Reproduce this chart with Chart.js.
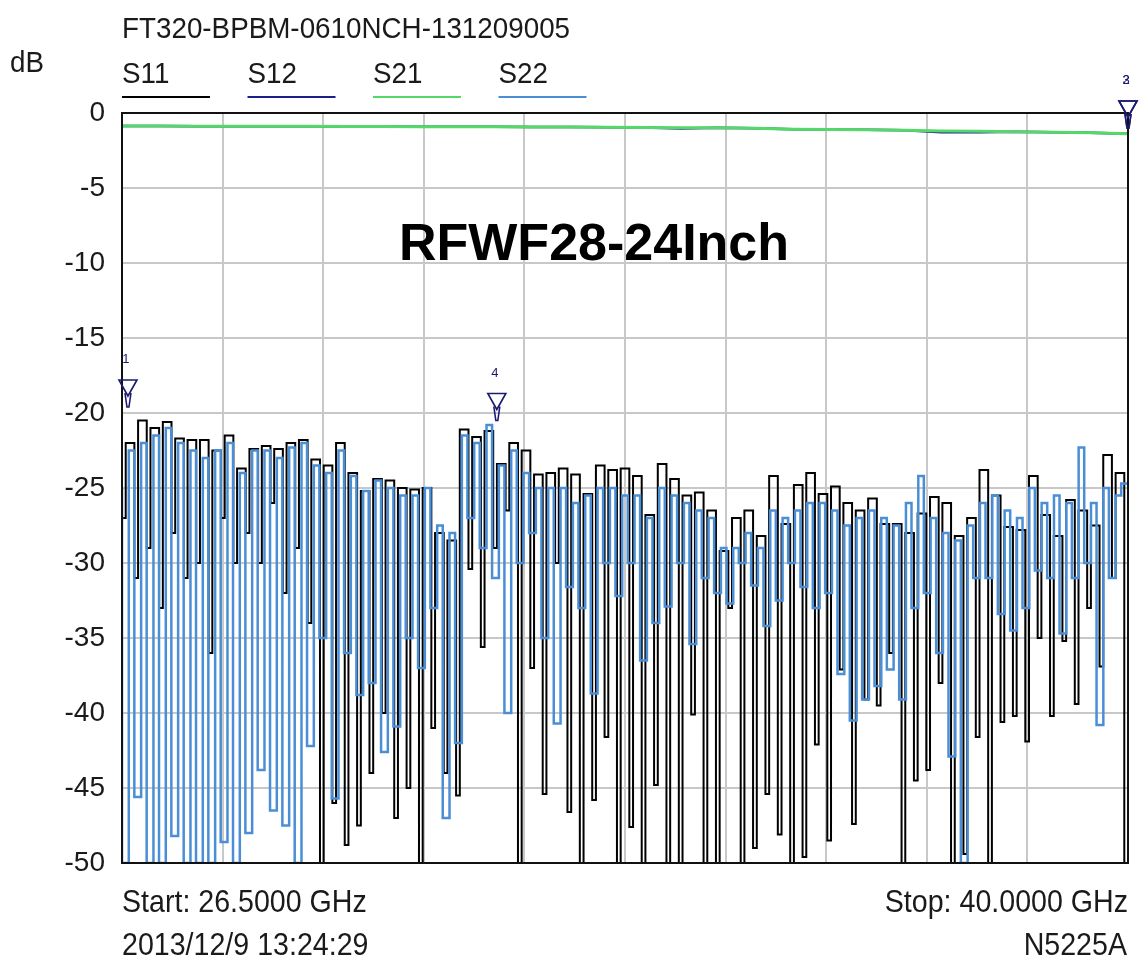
<!DOCTYPE html>
<html>
<head>
<meta charset="utf-8">
<title>RFWF28-24Inch S-parameters</title>
<script src="https://cdn.jsdelivr.net/npm/chart.js@4.4.1/dist/chart.umd.min.js"></script>
<style>
  html, body { margin: 0; padding: 0; background: #fff; }
  #wrap { position: relative; width: 1141px; height: 964px; }
</style>
</head>
<body>
<div id="wrap"><canvas id="sparam"></canvas></div>
<script>
// sweep settings
const startGHz = 26.5;
const stopGHz = 40.0;
const xDivisions = 10;
const yTicks = [0, -5, -10, -15, -20, -25, -30, -35, -40, -45, -50];

// S11 / S22 ripple: one peak and one dip per ripple
const s11Peak = [
  -20.3, -22.0, -20.5, -21.0, -20.6, -21.7, -21.8, -21.8, -22.5, -21.5,
  -23.7, -22.4, -22.2, -22.4, -22.0, -21.8, -23.1, -23.5, -22.0, -24.0,
  -25.2, -24.4, -24.5, -25.0, -25.1, -25.0, -28.0, -28.5, -21.1, -21.6,
  -21.2, -23.4, -22.0, -22.5, -24.1, -24.0, -23.7, -24.1, -25.4, -23.5,
  -23.8, -23.7, -24.2, -26.8, -23.4, -24.4, -25.5, -25.3, -26.5, -29.2,
  -27.0, -26.5, -28.2, -24.2, -27.4, -24.8, -24.0, -25.4, -24.9, -26.0,
  -26.5, -25.7, -27.4, -27.4, -28.0, -26.7, -25.6, -26.0, -28.2, -27.0,
  -23.8, -25.5, -27.6, -27.8, -24.2, -26.8, -28.2, -25.8, -26.5, -27.5,
  -22.8, -24.0
];
const s11Dip = [
  -27, -31, -29, -33, -28, -31, -30, -36, -27, -30,
  -28, -30, -26, -32, -29, -34, -50, -46, -48.8, -47.5,
  -44, -40, -47, -45, -50, -41, -44, -45.5, -30.4, -35.6,
  -29, -26.5, -50, -37, -45.4, -30, -46.6, -50, -45.8, -41.6,
  -50, -47.6, -50, -44.8, -50, -50, -40.1, -50, -50, -33,
  -50, -49, -45.4, -48.1, -50, -49.6, -42.1, -48.5, -37.1, -47.4,
  -39.1, -39.5, -36, -50, -44.5, -43.8, -38, -50, -49.4, -41.6,
  -50, -40.6, -40.2, -41.9, -35, -40.2, -35.2, -39.4, -33, -36.9,
  -31, -50
];
const s22Peak = [
  -25.0, -22.5, -22.0, -21.5, -21.0, -22.0, -22.5, -23.0, -22.5, -22.0,
  -24.0, -22.5, -22.5, -23.0, -22.3, -22.0, -23.5, -24.0, -22.5, -24.2,
  -25.2, -24.5, -25.0, -25.5, -25.5, -25.0, -27.5, -28.0, -21.5, -22.0,
  -20.8, -23.5, -22.5, -24.0, -25.0, -25.0, -25.0, -26.0, -25.5, -25.0,
  -25.0, -25.5, -25.5, -27.0, -25.0, -25.5, -26.0, -26.5, -27.0, -29.0,
  -29.0, -28.0, -29.0, -26.5, -27.0, -26.5, -26.0, -26.0, -26.5, -27.5,
  -27.0, -26.5, -27.0, -27.5, -26.0, -24.2, -27.0, -28.0, -28.5, -27.5,
  -26.0, -25.5, -26.5, -27.0, -25.0, -26.0, -25.5, -26.0, -22.3, -26.0,
  -25.0, -25.5
];
const s22Dip = [
  -50, -45.6, -50, -50, -48.2, -50, -50, -50, -48.6, -50,
  -48, -43.8, -46.5, -47.5, -50, -42.2, -35, -45.7, -36, -38.8,
  -38, -42.6, -40.9, -35, -37, -33, -47, -42, -27, -29,
  -31, -40, -30, -28, -35, -40.7, -31.6, -33, -38.7, -30,
  -32.2, -30, -36.5, -34, -32.9, -30, -35.4, -31, -32, -32.7,
  -30, -31.5, -34.2, -32.5, -30, -31.6, -33, -32, -37.4, -40.5,
  -39.1, -38.2, -37.1, -39.1, -33, -32, -36, -42.9, -50, -31,
  -31, -33.4, -34.5, -33, -30.5, -31, -34.7, -31, -30, -40.8,
  -31, -24.7
];

// transmission, every 0.5 GHz
const s21 = [
  -0.87, -0.87, -0.88, -0.88, -0.89, -0.89, -0.90, -0.90, -0.91, -0.91,
  -0.92, -0.93, -0.94, -0.95, -0.97, -0.98, -0.99, -1.02, -1.08, -1.10,
  -1.12, -1.15, -1.20, -1.22, -1.25, -1.28, -1.32, -1.38
];
const s12 = [
  -0.87, -0.87, -0.88, -0.88, -0.89, -0.89, -0.90, -0.90, -0.91, -0.91,
  -0.92, -0.93, -0.94, -0.95, -0.97, -1.04, -0.99, -1.02, -1.08, -1.10,
  -1.12, -1.15, -1.28, -1.29, -1.25, -1.28, -1.32, -1.38
];

// markers
const markerName = ["1", "4", "2", "3"];
const markerGHz = [26.58, 31.53, 40.0, 40.0];
const markerDb = [-19.6, -20.5, -1.0, -1.0];

const traceNames = ["S11", "S12", "S21", "S22"];
const traceColors = ["#000000", "#1c1f8a", "#55d86a", "#4a8fd6"];

// one ripple = a wide top and a narrow dip; dipAt is where the dip sits inside the ripple
function ripple(peaks, dips, dipAt) {
  const period = (stopGHz - startGHz) / (peaks.length - 1 + dipAt);
  const out = [];
  peaks.forEach(function (p, i) {
    const f = startGHz + i * period;
    out.push({ x: f, y: p });
    out.push({ x: f + dipAt * period, y: dips[i] });
  });
  return out;
}

function sweep(values) {
  const step = (stopGHz - startGHz) / (values.length - 1);
  return values.map(function (v, i) {
    return { x: startGHz + i * step, y: v };
  });
}

const FONT = "'Liberation Sans', Arial, sans-serif";

// text a little taller than wide, like the analyzer screenshot
function tallText(ctx, text, x, y) {
  ctx.save();
  ctx.translate(x, y);
  ctx.scale(1, 1.08);
  ctx.fillText(text, 0, 0);
  ctx.restore();
}

const vnaDecor = {
  id: "vnaDecor",
  afterDraw: function (chart) {
    const ctx = chart.ctx;
    const area = chart.chartArea;
    const xs = chart.scales.x;
    const ys = chart.scales.y;
    ctx.save();

    // plot frame
    ctx.strokeStyle = "#111";
    ctx.lineWidth = 2;
    ctx.strokeRect(area.left, area.top, area.right - area.left, area.bottom - area.top);

    // header
    ctx.fillStyle = "#1a1a1a";
    ctx.textBaseline = "alphabetic";
    ctx.font = "27.8px " + FONT;
    ctx.textAlign = "left";
    tallText(ctx, "FT320-BPBM-0610NCH-131209005", 122, 38);
    tallText(ctx, "dB", 10, 72);

    // legend
    traceNames.forEach(function (name, i) {
      const lx = 122 + i * 125.5;
      ctx.fillStyle = "#1a1a1a";
      tallText(ctx, name, lx, 83);
      ctx.strokeStyle = traceColors[i];
      ctx.lineWidth = 2;
      ctx.beginPath();
      ctx.moveTo(lx, 97);
      ctx.lineTo(lx + 88, 97);
      ctx.stroke();
    });

    // big label
    ctx.font = "bold 52px " + FONT;
    ctx.textAlign = "center";
    ctx.fillStyle = "#000";
    ctx.fillText("RFWF28-24Inch", 594, 260);

    // footer
    ctx.font = "28.6px " + FONT;
    ctx.fillStyle = "#1a1a1a";
    ctx.textAlign = "left";
    tallText(ctx, "Start: 26.5000 GHz", 122, 912);
    tallText(ctx, "2013/12/9 13:24:29", 122, 955);
    ctx.textAlign = "right";
    tallText(ctx, "Stop: 40.0000 GHz", 1128, 912);
    tallText(ctx, "N5225A", 1127, 955);

    // markers: hollow triangle with a short stem down to the trace
    ctx.strokeStyle = "#1a1a70";
    ctx.fillStyle = "#1a1a70";
    ctx.lineWidth = 1.6;
    ctx.font = "13px " + FONT;
    ctx.textAlign = "center";
    markerName.forEach(function (name, i) {
      const px = xs.getPixelForValue(markerGHz[i]);
      const py = ys.getPixelForValue(markerDb[i]);
      ctx.beginPath();
      ctx.moveTo(px - 9, py - 27);
      ctx.lineTo(px + 9, py - 27);
      ctx.lineTo(px, py - 11);
      ctx.closePath();
      ctx.stroke();
      ctx.beginPath();
      ctx.moveTo(px - 3, py - 14);
      ctx.lineTo(px - 1, py);
      ctx.lineTo(px + 1, py);
      ctx.lineTo(px + 3, py - 14);
      ctx.stroke();
      ctx.fillText(name, px - 2, py - 44);
    });
    ctx.restore();
  }
};

const s11Data = ripple(s11Peak, s11Dip, 0.3);
const s22Data = ripple(s22Peak, s22Dip, 0.55);

new Chart(document.getElementById("sparam"), {
  type: "line",
  data: {
    datasets: [
      { label: "S21", data: sweep(s21), borderColor: traceColors[2], borderWidth: 3, order: 0 },
      { label: "S12", data: sweep(s12), borderColor: traceColors[1], borderWidth: 2.5, order: 1 },
      { label: "S22", data: s22Data, borderColor: traceColors[3], borderWidth: 2.5, stepped: "after", order: 2 },
      { label: "S11", data: s11Data, borderColor: traceColors[0], borderWidth: 2, stepped: "after", order: 3 }
    ]
  },
  options: {
    responsive: true,
    maintainAspectRatio: false,
    animation: false,
    events: [],
    elements: {
      point: { radius: 0 },
      line: { tension: 0, fill: false }
    },
    layout: { padding: { top: 113, right: 13, bottom: 101, left: 0 } },
    plugins: {
      legend: { display: false },
      tooltip: { enabled: false }
    },
    scales: {
      x: {
        type: "linear",
        min: startGHz,
        max: stopGHz,
        afterBuildTicks: function (scale) {
          const step = (stopGHz - startGHz) / xDivisions;
          const t = [];
          for (let i = 0; i <= xDivisions; i++) t.push({ value: startGHz + i * step });
          scale.ticks = t;
        },
        afterFit: function (scale) { scale.height = 0; },
        ticks: { display: false },
        grid: { color: "#c8c8c8", lineWidth: 2, drawTicks: false },
        border: { display: false }
      },
      y: {
        min: -50,
        max: 0,
        afterBuildTicks: function (scale) {
          scale.ticks = yTicks.map(function (v) { return { value: v }; });
        },
        afterFit: function (scale) { scale.width = 122; },
        ticks: {
          padding: 17,
          color: "#1a1a1a",
          font: { family: FONT, size: 28 }
        },
        grid: { color: "#c8c8c8", lineWidth: 2, drawTicks: false },
        border: { display: false }
      }
    }
  },
  plugins: [vnaDecor]
});
</script>
</body>
</html>
